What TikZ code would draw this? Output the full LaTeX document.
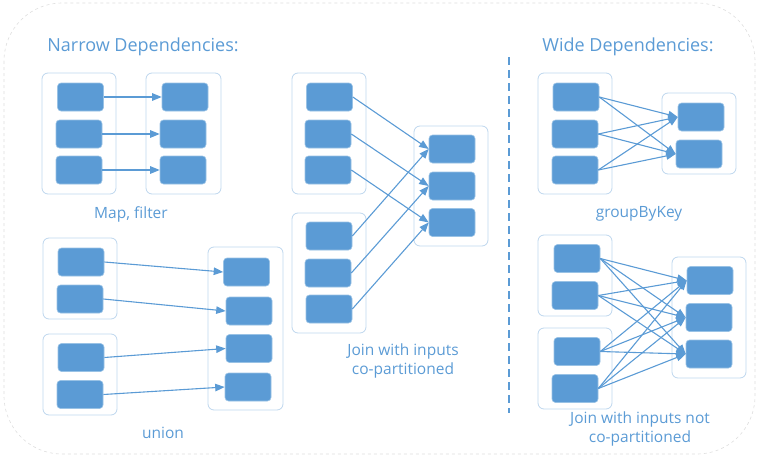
\documentclass[tikz,border=0pt]{standalone}
\usepackage{fontspec}
\setmainfont{Open Sans}
\usetikzlibrary{arrows.meta}

\begin{document}
\begin{tikzpicture}[x=1pt,y=-1pt]
				\definecolor{cbox}{rgb}{0.357,0.608,0.835}
				\definecolor{cboxl}{rgb}{0.60,0.76,0.90}
				\definecolor{cgrp}{rgb}{0.74,0.84,0.93}
				\definecolor{ctxt}{rgb}{0.357,0.608,0.835}
				\definecolor{cframe}{rgb}{0.87,0.87,0.87}
				\tikzset{
					part/.style={shape=rectangle,rounded corners=3.5pt,minimum width=46pt,minimum height=28pt,inner sep=0pt,fill=cbox,draw=cboxl,line width=0.6pt},
					grp/.style={draw=cgrp,rounded corners=6pt,line width=0.8pt},
					dep/.style={draw=cbox,line width=1.1pt,-{Triangle[length=9.5pt,width=7.5pt]}},
					lbl/.style={text=ctxt,font=\fontsize{15.5}{19}\selectfont,align=center},
					ttl/.style={text=ctxt,font=\fontsize{18}{21}\selectfont}
				}
				\useasboundingbox (0,0) rectangle (761,461);
				%
				\draw[cframe,dashed,line width=0.6pt,rounded corners=58pt] (4,3) rectangle (755,454);
				\draw[cbox,line width=1.5pt,dash pattern=on 8pt off 5pt] (509,57) -- (509,413);
				%
				\node[ttl] (narrow) at (143,47) {Narrow Dependencies:};
				\node[ttl] (wide) at (628,47) {Wide Dependencies:};
				%
				\draw[grp] (42,73) rectangle (116,194);
				\draw[grp] (146,73) rectangle (221,194);
				\draw[grp] (292,73) rectangle (366,194);
				\draw[grp] (292,213) rectangle (366,333);
				\draw[grp] (414,126) rectangle (488,246);
				\draw[grp] (43,238) rectangle (117,319);
				\draw[grp] (43,334) rectangle (117,415);
				\draw[grp] (208,247) rectangle (283,410);
				\draw[grp] (538,73) rectangle (612,194);
				\draw[grp] (662,93) rectangle (736,174);
				\draw[grp] (538,235) rectangle (612,316);
				\draw[grp] (538,328) rectangle (612,409);
				\draw[grp] (672,257) rectangle (746,378);
				%
				\node[part] (ml1) at (80.5,97) {};
				\node[part] (ml2) at (79,134) {};
				\node[part] (ml3) at (79,170) {};
				\node[part] (mr1) at (185,97) {};
				\node[part] (mr2) at (183,134) {};
				\node[part] (mr3) at (183,170) {};
				%
				\node[part] (ja1) at (329.5,97) {};
				\node[part] (ja2) at (328,134) {};
				\node[part] (ja3) at (328,170) {};
				\node[part] (jb1) at (329,236) {};
				\node[part] (jb2) at (328,273) {};
				\node[part] (jb3) at (329,309) {};
				\node[part] (jo1) at (452,149) {};
				\node[part] (jo2) at (452,186) {};
				\node[part] (jo3) at (452,222.5) {};
				%
				\node[part] (ua1) at (81,262) {};
				\node[part] (ua2) at (80,299) {};
				\node[part] (ub1) at (81,357.5) {};
				\node[part] (ub2) at (80,394.5) {};
				\node[part] (uo1) at (246.5,272) {};
				\node[part] (uo2) at (249,311) {};
				\node[part] (uo3) at (249,348.5) {};
				\node[part] (uo4) at (248,387) {};
				%
				\node[part] (gl1) at (576,97) {};
				\node[part] (gl2) at (575,134) {};
				\node[part] (gl3) at (575,170) {};
				\node[part] (gr1) at (701,117) {};
				\node[part] (gr2) at (699,154) {};
				%
				\node[part] (na1) at (577,258.5) {};
				\node[part] (na2) at (575,295.5) {};
				\node[part] (nb1) at (577,351.5) {};
				\node[part] (nb2) at (575,388.5) {};
				\node[part] (no1) at (710,280.5) {};
				\node[part] (no2) at (709,317.5) {};
				\node[part] (no3) at (709,354) {};
				%
				\draw[dep] (ml1.east) -- (mr1.west);
				\draw[dep] (ml2.east) -- (mr2.west);
				\draw[dep] (ml3.east) -- (mr3.west);
				%
				\draw[dep] (ja1.east) -- (jo1.west);
				\draw[dep] (ja2.east) -- (jo2.west);
				\draw[dep] (ja3.east) -- (jo3.west);
				\draw[dep] (jb1.east) -- (jo1.west);
				\draw[dep] (jb2.east) -- (jo2.west);
				\draw[dep] (jb3.east) -- (jo3.west);
				%
				\draw[dep] (ua1.east) -- (uo1.west);
				\draw[dep] (ua2.east) -- (uo2.west);
				\draw[dep] (ub1.east) -- (uo3.west);
				\draw[dep] (ub2.east) -- (uo4.west);
				%
				\draw[dep] (gl1.east) -- (gr1.west);
				\draw[dep] (gl1.east) -- (gr2.west);
				\draw[dep] (gl2.east) -- (gr1.west);
				\draw[dep] (gl2.east) -- (gr2.west);
				\draw[dep] (gl3.east) -- (gr1.west);
				\draw[dep] (gl3.east) -- (gr2.west);
				%
				\draw[dep] (na1.east) -- (no1.west);
				\draw[dep] (na1.east) -- (no2.west);
				\draw[dep] (na1.east) -- (no3.west);
				\draw[dep] (na2.east) -- (no1.west);
				\draw[dep] (na2.east) -- (no2.west);
				\draw[dep] (na2.east) -- (no3.west);
				\draw[dep] (nb1.east) -- (no1.west);
				\draw[dep] (nb1.east) -- (no2.west);
				\draw[dep] (nb1.east) -- (no3.west);
				\draw[dep] (nb2.east) -- (no1.west);
				\draw[dep] (nb2.east) -- (no2.west);
				\draw[dep] (nb2.east) -- (no3.west);
				%
				\node[lbl] (mapl) at (131,214) {Map, filter};
				\node[lbl] (unionl) at (163,433) {union};
				\node[lbl] (joinl) at (403,361) {Join with inputs\\co-partitioned};
				\node[lbl] (groupl) at (639,214) {groupByKey};
				\node[lbl] (joinnl) at (640,429) {Join with inputs not\\co-partitioned};
				%
			\end{tikzpicture}
\end{document}
